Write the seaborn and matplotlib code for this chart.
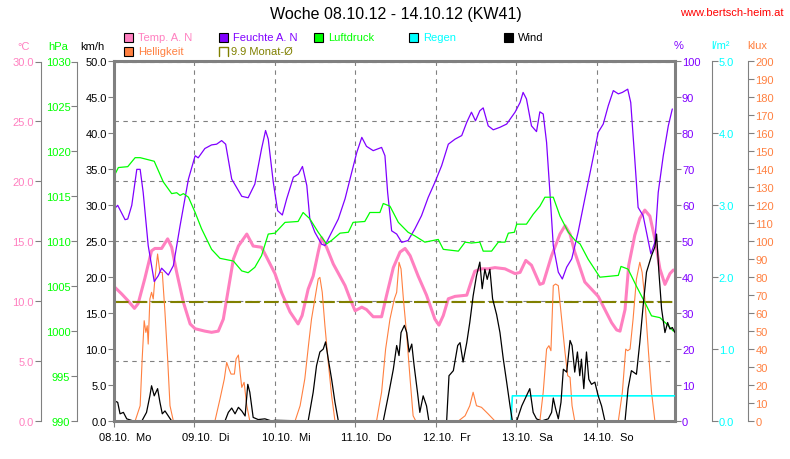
import matplotlib
matplotlib.use("Agg")
import matplotlib.pyplot as plt
import seaborn as sns
from matplotlib.patches import Rectangle
from matplotlib.lines import Line2D
from matplotlib.ticker import FixedLocator, FormatStrFormatter, NullFormatter

# hours since 08.10.12 00:00
days = [0, 24, 48, 72, 96, 120, 144]
day_labels = ["08.10.  Mo", "09.10.  Di", "10.10.  Mi", "11.10.  Do",
              "12.10.  Fr", "13.10.  Sa", "14.10.  So"]

temp_h = [0.1, 2.3, 4.3, 6.1, 7.2, 9.2, 11.2, 12.2, 14.2, 16.0, 17.2, 18.7, 20.7, 22.7,
          24.2, 27.1, 29.1, 31.1, 32.6, 34.1, 35.6, 37.1, 39.6, 41.5, 44.0, 46.0, 48.0,
          50.0, 52.5, 54.9, 56.1, 57.9, 59.4, 60.9, 61.9, 63.4, 65.4, 68.9, 70.4, 71.9,
          73.9, 75.3, 77.3, 79.8, 81.3, 83.3, 85.3, 86.8, 88.3, 90.7, 93.2, 95.7, 96.9,
          98.2, 99.7, 101.7, 105.2, 106.6, 107.6, 109.6, 111.6, 113.6, 116.6, 119.6,
          121.1, 122.8, 124.5, 127.0, 128.0, 130.5, 133.0, 134.5, 136.0, 137.4, 140.4,
          142.4, 144.4, 146.4, 148.4, 149.9, 150.9, 152.4, 153.5, 155.3, 156.8, 158.3,
          159.8, 161.3, 162.8, 164.3, 165.8, 166.8]
temp_c = [11.2, 10.6, 10.0, 9.4, 9.8, 11.9, 14.2, 14.4, 14.4, 15.2, 14.5, 12.4, 9.9, 8.1,
          7.7, 7.5, 7.4, 7.5, 8.5, 11.0, 13.5, 14.6, 15.6, 14.6, 14.5, 13.4, 12.3,
          10.7, 9.1, 8.1, 8.8, 11.0, 12.1, 14.1, 15.3, 14.5, 13.1, 11.3, 10.2, 9.2,
          9.5, 9.3, 8.7, 8.7, 10.5, 12.8, 14.1, 14.4, 13.8, 12.1, 10.5, 8.5, 8.0,
          8.8, 10.2, 10.4, 10.5, 11.7, 12.5, 12.7, 12.7, 12.8, 12.7, 12.3,
          12.4, 13.4, 13.0, 11.4, 11.5, 13.8, 15.6, 16.3, 15.6, 14.1, 11.6,
          11.0, 10.4, 9.3, 8.2, 7.6, 7.5, 9.3, 13.0, 15.5, 16.9, 17.6,
          17.1, 15.2, 12.7, 11.4, 12.3, 12.6]

hum_h = [0.1, 1.1, 3.3, 4.1, 5.3, 6.8, 7.8, 8.7, 10.2, 12.0, 13.2, 14.2, 16.2, 17.7, 19.7,
         22.2, 24.2, 25.1, 27.1, 29.1, 30.6, 32.1, 33.3, 35.1, 38.1, 40.0, 42.0, 44.0,
         45.2, 46.0, 47.5, 48.8, 50.2, 51.5, 53.5, 55.0, 56.2, 57.5, 58.4, 59.9, 61.9,
         62.9, 64.9, 66.9, 68.9, 70.9, 72.4, 73.9, 75.3, 77.3, 79.8, 80.8, 81.6, 82.8,
         84.3, 85.8, 87.7, 89.7, 91.7, 93.7, 95.7, 97.7, 99.7, 101.7, 103.7, 105.2,
         106.6, 107.8, 109.1, 110.1, 111.6, 113.1, 115.1, 117.1, 119.6, 121.1, 122.0,
         123.0, 124.5, 126.0, 127.0, 128.0, 129.0, 130.0, 131.0, 132.5, 133.7, 135.0,
         136.5, 138.4, 140.4, 142.4, 144.4, 145.9, 147.4, 148.9, 150.4, 151.6, 153.2,
         154.1, 155.3, 156.3, 157.8, 158.8, 160.1, 161.3, 162.3, 163.8, 165.3, 166.5]
hum_pct = [59.0, 60.0, 56.0, 56.2, 60.0, 70.0, 70.0, 63.6, 48.8, 38.8, 40.4, 42.5, 40.6, 43.2, 54.3,
           67.3, 73.8, 73.2, 75.8, 76.8, 77.0, 78.0, 77.0, 67.3, 62.5, 62.1, 65.9, 75.7,
           80.8, 78.4, 66.4, 58.5, 57.3, 61.8, 67.8, 68.7, 70.8, 65.5, 56.2, 52.5, 49.2,
           48.8, 52.5, 56.2, 61.8, 69.2, 74.7, 78.9, 76.4, 75.2, 76.1, 73.8, 63.6, 52.9,
           52.0, 49.7, 50.2, 53.4, 57.1, 62.2, 66.4, 71.0, 77.0, 78.4, 79.4, 83.1,
           85.9, 83.5, 86.3, 87.1, 82.1, 81.0, 81.7, 82.6, 85.9, 88.6, 91.4,
           89.6, 82.1, 80.5, 86.0, 85.4, 77.5, 63.6, 48.8, 41.4, 39.5, 42.8,
           45.1, 52.5, 61.8, 71.0, 80.3, 82.6, 87.7, 91.9, 91.0, 91.4, 92.3,
           88.6, 72.9, 59.4, 57.1, 52.5, 46.5, 49.7, 63.6, 73.8, 82.1, 86.8]

press_h = [0.1, 1.3, 4.1, 6.3, 7.8, 12.0, 14.7, 17.2, 18.7, 19.7, 20.7, 22.2, 24.2, 26.1,
           29.1, 31.6, 35.6, 38.1, 40.0, 42.0, 44.0, 46.0, 48.0, 51.0, 54.9, 56.4, 58.4,
           60.9, 63.4, 64.9, 67.4, 69.9, 71.3, 74.8, 76.3, 79.3, 80.3, 82.3, 84.8, 87.7,
           89.7, 92.7, 96.7, 98.2, 102.7, 104.7, 106.6, 109.1, 110.1, 112.6, 114.6,
           116.6, 117.6, 119.4, 120.1, 123.0, 125.0, 127.0, 128.5, 131.0, 133.0, 135.5,
           137.5, 139.0, 141.4, 144.9, 150.4, 151.2, 153.3, 155.8, 158.3, 160.3, 162.8,
           164.8, 166.8]
press_hpa = [1017.3, 1018.2, 1018.3, 1019.3, 1019.3, 1018.9, 1016.6, 1015.3, 1015.4, 1015.1,
             1015.3, 1014.9, 1013.2, 1011.4, 1009.1, 1008.1, 1007.8, 1006.7, 1006.5, 1007.1,
             1008.4, 1010.8, 1010.9, 1012.1, 1012.2, 1013.2, 1012.5, 1011.0, 1009.7, 1010.1,
             1010.9, 1011.0, 1012.1, 1012.2, 1013.2, 1013.2, 1014.2, 1013.9, 1012.1, 1011.0,
             1010.6, 1009.9, 1010.2, 1009.1, 1008.9, 1009.9, 1009.8, 1009.9, 1008.9, 1008.9,
             1009.9, 1009.9, 1010.9, 1011.0, 1011.9, 1011.9, 1013.0, 1013.9, 1014.9, 1014.9,
             1012.8, 1011.0, 1010.1, 1009.7, 1008.0, 1006.0, 1006.2, 1007.2, 1006.9, 1005.0,
             1003.2, 1001.7, 1001.5, 1000.8, 1000.0]

light_h = [0.0, 6.3, 7.8, 8.4, 9.0, 9.5, 9.9, 10.2, 10.7, 11.2, 11.7, 12.2, 13.0, 13.7, 14.4,
           15.2, 16.0, 16.7, 17.7,
           30.1, 31.6, 32.9, 33.6, 34.3, 34.9, 35.9, 36.4, 37.1, 37.6, 38.1, 38.8, 39.6, 40.5,
           54.0, 55.5, 56.9, 58.1, 58.9, 59.9, 60.9, 61.4, 62.1, 62.9, 63.9, 64.9, 65.9,
           78.3, 79.8, 81.0, 82.3, 83.6, 84.3, 85.0, 85.6, 86.3, 87.3, 88.3, 89.2, 90.0,
           102.7, 104.7, 106.1, 107.1, 108.1, 109.6, 111.6, 113.6,
           127.0, 128.0, 129.0, 129.7, 130.3, 131.0, 131.7, 132.5, 133.5, 134.5, 135.3, 136.0,
           136.6, 137.4,
           150.4, 151.6, 152.6, 153.2, 153.9, 154.8, 155.8, 156.8, 157.5, 158.3, 159.4, 160.3,
           161.3, 167.3]
light_klux = [0, 0, 8.5, 34.5, 55.8, 49.3, 53, 42.8, 67.9, 71.6, 67.9, 79, 92.9, 82.7, 82.7,
              60.5, 34.5, 8.5, 0,
              0, 12.2, 23.4, 32.6, 28.9, 26.1, 26.1, 34.5, 36.7, 27.1, 18.7, 21.5, 8.5, 0,
              0, 8.5, 23.4, 43.8, 56.7, 67.9, 79, 79.9, 71.6, 53, 32.6, 14.1, 0,
              0, 16, 40, 56.7, 67.9, 71.6, 88.3, 84.6, 67.9, 47.5, 23.4, 2.9, 0,
              0, 2.9, 8.5, 16, 8.5, 7.6, 3.9, 0,
              0, 16, 40, 41.9, 39.1, 75.3, 76.2, 75.3, 56.7, 38.2, 25.2, 24.3,
              8.5, 0,
              0, 16, 40, 39.1, 40, 56.7, 79, 88.3, 82.7, 67.9, 38.2, 16,
              0, 0]

wind_h = [0.1, 1.1, 1.8, 2.8, 3.8, 5.8, 8.3, 9.7, 10.7, 11.2, 12.0, 13.0, 13.7, 14.4, 15.2,
          16.2, 17.2,
          33.1, 34.1, 35.1, 36.1, 37.1, 38.1, 39.1, 39.9, 40.5, 41.5, 43.0, 45.0, 47.0, 48.0,
          57.9, 59.4, 60.4, 61.4, 62.4, 63.1, 63.9, 64.9, 65.9, 66.9,
          80.3, 81.8, 83.3, 84.3, 85.0, 85.6, 86.6, 87.3, 88.0, 88.8, 89.5, 90.5, 91.2, 92.2,
          93.2, 93.9,
          99.2, 99.9, 101.2, 102.5, 103.2, 104.1, 105.2, 106.1, 107.1, 108.1, 109.1, 109.8,
          110.6, 111.3, 112.1, 112.9, 114.1, 115.1, 116.1, 117.1, 118.1, 118.8,
          120.1, 121.6, 123.0, 124.0, 125.0, 126.0, 127.5, 129.5, 130.5, 131.0, 131.7, 132.5,
          133.3, 134.0, 135.0, 136.0, 136.6, 137.4, 138.2, 138.9, 139.4, 140.1, 140.9, 141.6,
          142.4, 143.4, 144.4, 145.4, 146.4,
          152.4, 153.3, 154.3, 155.8, 156.8, 157.8, 158.8, 160.3, 161.3, 161.8, 162.5, 163.3,
          164.3, 165.1, 165.8, 166.5, 167.3]
wind_kmh = [2.8, 2.6, 1.0, 1.2, 0.3, 0, 0, 1.2, 3.5, 4.9, 3.5, 4.5, 2.6, 1.0, 1.4,
            0.7, 0,
            0, 1.2, 1.8, 1.0, 1.9, 1.4, 0.7, 5.1, 4.0, 0.5, 0.2, 0.3, 0, 0.1,
            0, 4.0, 7.7, 9.6, 10.0, 11.0, 8.6, 5.8, 2.6, 0,
            0, 3.5, 7.2, 10.5, 9.1, 12.3, 13.3, 12.3, 9.6, 10.7, 7.7, 4.0, 1.2, 3.5,
            2.1, 0,
            0, 6.3, 7.0, 10.5, 10.9, 8.2, 10.9, 13.7, 17.4, 20.2, 22.1, 18.4,
            21.1, 19.7, 21.1, 17.0, 14.8, 12.3, 8.6, 5.4, 2.1, 0,
            0, 2.1, 3.5, 4.5, 1.2, 0.3, 0, 0.3, 1.2, 3.2, 1.7, 0.3,
            2.6, 7.2, 6.8, 11.2, 10.5, 6.8, 9.6, 6.3, 8.6, 4.5, 9.6, 5.8,
            5.1, 5.4, 3.5, 2.1, 0,
            0, 4.5, 7.0, 6.5, 10.9, 16.0, 20.7, 23.0, 24.2, 26.0, 20.7, 15.6,
            12.3, 13.7, 12.8, 13.0, 12.3]

rain_h = [0.0, 118.4, 118.8, 167.3]
rain_mm = [0, 0, 0.35, 0.35]

month_avg = 9.9

# colours
pink = "#FF80C0"
orange = "#FF8040"
purple = "#8000FF"
olive = "#808000"
green = "#00FF00"
cyan = "#00FFFF"
gray = "#808080"

sns.set_style("white")
plt.rcParams['font.family'] = ['Liberation Sans', 'DejaVu Sans']
plt.rcParams['font.size'] = 8

W, H = 790, 460
fig = plt.figure(figsize=(7.9, 4.6), dpi=100)
ax = fig.add_axes([114 / W, 38 / H, 561 / W, 359.5 / H])   # host: temperature
ax_b = ax.twinx()   # brightness
ax_h = ax.twinx()   # humidity
ax_p = ax.twinx()   # pressure
ax_r = ax.twinx()   # rain
ax_w = ax.twinx()   # wind (top-most, carries the frame)

for a in [ax, ax_b, ax_h, ax_p, ax_r, ax_w]:
    for s in a.spines.values():
        s.set_visible(False)
    a.set_xlim(0, 167.3)

# -------------------------------
# lines
# -------------------------------
sns.lineplot(x=light_h, y=light_klux, ax=ax_b, color=orange, linewidth=0.8,
             estimator=None, sort=False, legend=False)
sns.lineplot(x=temp_h, y=temp_c, ax=ax, color=pink, linewidth=2.2,
             estimator=None, sort=False, legend=False)
ax.axhline(month_avg, color=olive, linewidth=1.5, linestyle=(0, (7, 2)))
sns.lineplot(x=hum_h, y=hum_pct, ax=ax_h, color=purple, linewidth=0.9,
             estimator=None, sort=False, legend=False)
sns.lineplot(x=press_h, y=press_hpa, ax=ax_p, color=green, linewidth=0.9,
             estimator=None, sort=False, legend=False)
sns.lineplot(x=rain_h, y=rain_mm, ax=ax_r, color=cyan, linewidth=1.2,
             estimator=None, sort=False, legend=False)
sns.lineplot(x=wind_h, y=wind_kmh, ax=ax_w, color="black", linewidth=0.9,
             estimator=None, sort=False, legend=False)

# -------------------------------
# scales
# -------------------------------
ax.set_ylim(0, 30)
ax_p.set_ylim(990, 1030)
ax_w.set_ylim(0, 50)
ax_h.set_ylim(0, 100)
ax_r.set_ylim(0, 5)
ax_b.set_ylim(0, 200)

axis_setup = [
    (ax, 'left', -0.1307, 5, "%.1f", pink, 0.8),
    (ax_p, 'left', -0.0654, 5, "%d", green, 0.8),
    (ax_w, 'left', 0.0, 5, "%.1f", "black", 2.2),
    (ax_h, 'right', 1.0, 10, "%d", purple, 2.2),
    (ax_r, 'right', 1.0654, 1, "%.1f", cyan, 0.8),
    (ax_b, 'right', 1.1307, 10, "%d", orange, 0.8),
]
for a, side, pos, step, fmt, col, lw in axis_setup:
    lo, hi = a.get_ylim()
    ticks = [lo + i * step for i in range(int(round((hi - lo) / step)) + 1)]
    a.yaxis.set_major_locator(FixedLocator(ticks))
    a.yaxis.set_major_formatter(FormatStrFormatter(fmt))
    sp = a.spines[side]
    sp.set_visible(True)
    sp.set_position(('axes', pos))
    sp.set_color(gray)
    sp.set_linewidth(lw)
    if side == 'left':
        a.yaxis.tick_left()
        a.tick_params(axis='y', left=True, right=False, labelleft=True, labelright=False)
    else:
        a.yaxis.tick_right()
        a.tick_params(axis='y', left=False, right=True, labelleft=False, labelright=True)
    a.tick_params(axis='y', direction='out', length=4, width=0.8, color=gray,
                  labelcolor=col, labelsize=8, pad=1)
    a.set_ylabel("")
    a.set_xlabel("")

# frame on the top-most axes so zero lines sit under it
for s in ['top', 'bottom']:
    ax_w.spines[s].set_visible(True)
    ax_w.spines[s].set_color(gray)
    ax_w.spines[s].set_linewidth(2.2)

# x axis: day ticks and labels
ax.xaxis.set_major_locator(FixedLocator(days))
ax.xaxis.set_major_formatter(NullFormatter())
ax.xaxis.set_minor_locator(FixedLocator([d + 3.3 for d in days]))
ax.xaxis.set_minor_formatter(plt.FixedFormatter(day_labels))
ax.tick_params(axis='x', which='major', direction='out', length=4, width=0.8,
               color=gray, bottom=True)
ax.tick_params(axis='x', which='minor', length=0, pad=8, labelsize=8, labelcolor="black")

# grid
ax.grid(True, which='major', color=gray, linestyle=(0, (4, 4)), linewidth=0.8)
ax.set_axisbelow(True)

# -------------------------------
# texts
# -------------------------------
def ftext(x, y, s, **kw):
    fig.text(x / W, 1 - y / H, s, va='center', **kw)

ftext(396, 15, "Woche 08.10.12 - 14.10.12 (KW41)", ha='center', fontsize=11.5, color="black")
ftext(732, 13, "www.bertsch-heim.at", ha='center', fontsize=8, color="red")

ftext(24, 47, "°C", ha='center', color=pink)
ftext(58, 47, "hPa", ha='center', color=green)
ftext(92, 47, "km/h", ha='center', color="black")
ftext(679, 46, "%", ha='center', color=purple)
ftext(720, 46, "l/m²", ha='center', color=cyan)
ftext(757, 46, "klux", ha='center', color=orange)

legend_items = [
    ("Temp. A. N", pink, 124, 38),
    ("Feuchte A. N", purple, 219, 38),
    ("Luftdruck", green, 314, 38),
    ("Regen", cyan, 409, 38),
    ("Wind", "black", 504, 38),
    ("Helligkeit", orange, 124, 52.5),
]
for label, col, x, y in legend_items:
    fig.patches.append(Rectangle((x / W, 1 - (y + 4.5) / H), 9 / W, 9 / H,
                                 transform=fig.transFigure, facecolor=col,
                                 edgecolor="black", linewidth=0.8))
    ftext(x + 14, y, label, ha='left', color=col)

# monthly average legend: open square
x0, y0 = 219, 52.5
fig.lines.append(Line2D([x0 / W, x0 / W, (x0 + 9) / W, (x0 + 9) / W],
                        [1 - (y0 + 4.5) / H, 1 - (y0 - 4.5) / H, 1 - (y0 - 4.5) / H, 1 - (y0 + 4.5) / H],
                        transform=fig.transFigure, color=olive, linewidth=1))
ftext(x0 + 12, y0, "9.9 Monat-Ø", ha='left', color=olive)

fig.savefig("out.png", dpi=100)
